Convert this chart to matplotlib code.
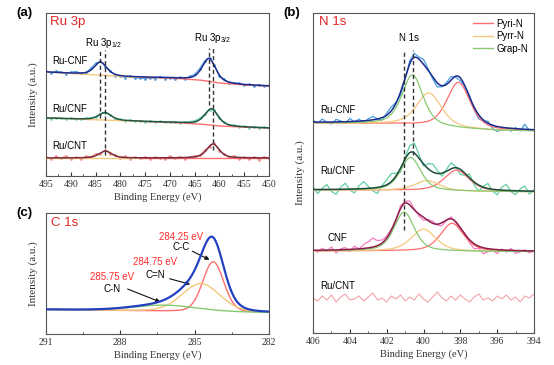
import numpy as np
import matplotlib
matplotlib.use('Agg')
import matplotlib.pyplot as plt
from matplotlib.lines import Line2D
from matplotlib.ticker import MultipleLocator

plt.rcParams['font.family'] = ['Liberation Serif', 'DejaVu Serif']
SANS = ['Liberation Sans', 'DejaVu Sans']

# ---------------- data ----------------
# (a) Ru 3p : peaks [centre eV, height, fwhm], background nodes, raw residuals (1 eV step)
ru3p_bg_e = [495, 486, 479, 470, 464, 460, 455, 450]
ru_cnf_3p_bg = [104, 101.5, 99.2, 98, 96, 93, 91, 90]
ru_cnf2_3p_bg = [58, 56.5, 55.2, 53.6, 52, 50, 48.8, 48]
ru_cnt_3p_bg = [18, 18, 18, 18, 18, 18, 18, 18]
ru_cnf_3p = [[484.0, 13, 3.0], [462.1, 23, 3.2]]
ru_cnf2_3p = [[483.1, 7.5, 3.0], [461.6, 16.5, 3.2]]
ru_cnt_3p = [[483.0, 7, 3.0], [461.3, 14, 3.0]]
ru_cnf_3p_res = [0.5, -0.8, 1.2, 0.3, -1.0, 0.9, 1.5, 0.2, -0.6, 1.8, 2.0, 0.8, -0.5, 1.0, -1.2, -0.3,
                 -1.5, 0.6, -1.8, -0.9, -2.0, -0.4, -1.3, 0.7, -1.1, -0.2, -1.6, 0.4, -0.7, 1.0, 1.5,
                 2.2, 1.8, 0.5, 1.2, -0.6, 0.9, -1.1, -0.3, 0.8, -0.9, 0.4, -1.2, 0.6, -0.5, 0.3]
ru_cnf2_3p_res = [0.3, -0.5, 0.6, 0.1, -0.4, 0.5, 0.2, -0.3, 0.8, 0.4, -0.2, 0.6, -0.5, 0.3, -0.6, 0.2,
                  -0.4, 0.5, -0.3, 0.1, -0.6, 0.4, -0.2, 0.3, -0.5, 0.2, 0.6, -0.3, 0.4, 0.9, 1.2,
                  1.5, 0.8, -0.2, 0.5, -0.6, 0.3, -0.4, 0.6, -0.2, 0.4, -0.5, 0.2, -0.3, 0.5, -0.1]
ru_cnt_3p_res = [0.8, -1.2, 1.5, -0.5, 2.0, -1.0, 0.6, -1.6, 1.1, 0.2, 1.8, -0.7, 0.9, -1.4, 0.5, -0.8,
                 1.3, -1.1, 0.4, -0.6, 1.0, -1.5, 0.7, 0.1, -1.0, 1.6, -0.4, 0.8, -1.2, 0.6, 1.2,
                 0.3, 1.9, -0.5, 1.4, -1.3, 0.7, -0.9, 1.5, -1.7, 0.2, -1.4, 0.9, -2.0, 1.1, -0.8]

# (b) N 1s : components Pyri-N, Pyrr-N, Grap-N, raw residuals (0.25 eV step)
n1s_bg_e = [406, 401.5, 400, 398, 396, 394]
ru_cnf_n_bg = [210, 209, 207.5, 204.5, 202.5, 202]
ru_cnf2_n_bg = [143, 142.8, 142.4, 141.8, 141.4, 141.2]
cnf_n_bg = [82, 82, 81.8, 81.6, 81.4, 81.3]
ru_cnf_n = [[398.1, 46, 1.5], [399.7, 33, 1.6], [400.6, 50, 1.35]]
ru_cnf2_n = [[398.2, 21, 1.6], [399.8, 10, 1.6], [400.7, 33, 1.3]]
cnf_n = [[398.45, 28, 1.5], [400.0, 22, 1.6], [401.05, 39, 1.3]]
ru_cnf_n_res = [2, -1, 3, 0, -2, 2.5, 1,
                -1.5, 3, -0.5, 2, -2, 1.5, 3.5,
                0, -2.5, 2, 4, 1, -3, -2,
                3, 4, 2, 5, 1.5, -2, -4,
                -1, 2, 3.5, -1, -3, 0, 1.5,
                -2.5, -4, -1, 2, -3, -5, -2,
                0, -3, 1, -2, 5, -1, 0]
ru_cnf2_n_res = [3, -4, 1, 5, -2, -5, 2,
                 6, -1, -4, 3, 7, 2, -3,
                 -6, 1, 5, 8, 3, -4, 2,
                 7, 10, 4, -2, 5, 8, 3,
                 -3, 2, 6, 1, -5, -2, 4,
                 -3, -6, 1, 5, -2, -5, 3,
                 6, -1, -4, 2, 5, -3, 1]
cnf_n_res = [1, -2, 2, -1, 3, -3, 1,
             2, -2, 3, 0, 4, 6, 9,
             5, 3, 2, 1, -2, 3, 2,
             4, 1, -2, -3, 1, 2, -1,
             -3, 0, 2, -1, -2, 1, -3,
             -5, -2, -6, -3, -1, -4, 1,
             -2, 2, -3, -1, 1, -2, 0]
ru_cnt_n_raw = [35, 32, 37, 33, 38, 31, 36,
                39, 33, 34, 37, 32, 36, 40,
                33, 35, 31, 37, 34, 38, 32,
                36, 33, 39, 34, 31, 36, 41,
                35, 32, 37, 33, 38, 34, 31,
                36, 39, 33, 35, 32, 37, 34,
                38, 33, 36, 31, 37, 35, 39]

# (c) C 1s : C-C, C=N, C-N
c1s_bg_e = [291, 282]
c1s_bg = [24.5, 21.5]
c1s_peaks = [[284.25, 50, 1.0], [284.75, 28, 1.8], [286.2, 6, 3.0]]

RED = '#ff6e6e'
YEL = '#f5c87c'
GRN = '#88c972'


def pv(x, c, h, w, eta=0.5):
    g = np.exp(-4 * np.log(2) * ((x - c) / w) ** 2)
    l = 1.0 / (1 + 4 * ((x - c) / w) ** 2)
    return h * (eta * l + (1 - eta) * g)


def bg_at(x, e, y):
    return np.interp(x, e[::-1], y[::-1])


def envelope(x, peaks, e, y, eta=0.5):
    tot = bg_at(x, e, y)
    for c, h, w in peaks:
        tot = tot + pv(x, c, h, w, eta)
    return tot


def style_ax(ax):
    for s in ax.spines.values():
        s.set_color('#555555')
        s.set_linewidth(0.8)
    ax.set_yticks([])
    ax.tick_params(axis='x', which='both', direction='in', top=False, labelsize=7,
                   colors='#333333', pad=3)
    ax.tick_params(axis='x', which='major', length=3)
    ax.tick_params(axis='x', which='minor', length=1.5)
    ax.set_xlabel('Binding Energy (eV)', fontsize=7.5, labelpad=2, color='#333333')
    ax.set_ylabel('Intensity (a.u.)', fontsize=8, labelpad=6, color='#333333')


fig = plt.figure(figsize=(5.54, 3.65), dpi=100)
ax_a = fig.add_axes([0.083, 0.5178, 0.4025, 0.4466])
ax_b = fig.add_axes([0.565, 0.0877, 0.3989, 0.8767])
ax_c = fig.add_axes([0.083, 0.0849, 0.4025, 0.3315])

# ---------------- (a) Ru 3p ----------------
xa = np.linspace(495, 450, 900)
xa_raw = np.linspace(495, 450, 46)
traces_a = [
    (ru_cnf_3p, ru_cnf_3p_bg, ru_cnf_3p_res, '#4a98dc', '#1b2a8c'),
    (ru_cnf2_3p, ru_cnf2_3p_bg, ru_cnf2_3p_res, '#74d3b0', '#1f5744'),
    (ru_cnt_3p, ru_cnt_3p_bg, ru_cnt_3p_res, '#f08c8c', '#7a2a3c'),
]
for peaks, bg, res, c_raw, c_fit in traces_a:
    raw = envelope(xa_raw, peaks, ru3p_bg_e, bg) + np.array(res)
    ax_a.plot(xa_raw, raw, color=c_raw, lw=0.7, marker='.', ms=1.8, zorder=2)
    b = bg_at(xa, ru3p_bg_e, bg)
    ax_a.plot(xa[xa >= 476], b[xa >= 476], color=YEL, lw=1.0, zorder=3)
    ax_a.plot(xa[xa <= 476], b[xa <= 476], color=RED, lw=1.0, zorder=3)
    ax_a.plot(xa, envelope(xa, peaks, ru3p_bg_e, bg), color=c_fit, lw=1.1, zorder=4)

for xe, y0, y1 in [(484.0, 58, 126), (483.0, 21, 126), (462.1, 71, 128), (461.3, 26, 128)]:
    ax_a.plot([xe, xe], [y0, y1], color='#333333', lw=1.0, ls=(0, (3, 2)), zorder=5)

ax_a.text(483.3, 133, r'Ru 3p$_{\mathregular{1/2}}$', fontsize=7, ha='center', va='center', family=SANS)
ax_a.text(461.4, 138, r'Ru 3p$_{\mathregular{3/2}}$', fontsize=7, ha='center', va='center', family=SANS)
for lab, yy in [('Ru-CNF', 115), ('Ru/CNF', 67), ('Ru/CNT', 30)]:
    ax_a.text(493.8, yy, lab, fontsize=7, ha='left', va='center', family=SANS)
ax_a.text(0.018, 0.945, 'Ru 3p', transform=ax_a.transAxes, fontsize=9.5, color='#e02424',
          ha='left', va='center', family=SANS)
ax_a.set_xlim(495, 450)
ax_a.set_ylim(0, 163)
ax_a.xaxis.set_major_locator(MultipleLocator(5))
ax_a.xaxis.set_minor_locator(MultipleLocator(2.5))
style_ax(ax_a)

# ---------------- (b) N 1s ----------------
xb = np.linspace(406, 394, 700)
xb_raw = np.linspace(406, 394, 49)
traces_b = [
    (ru_cnf_n, ru_cnf_n_bg, ru_cnf_n_res, '#4a9ee0', '#1b2a8c'),
    (ru_cnf2_n, ru_cnf2_n_bg, ru_cnf2_n_res, '#62cfa2', '#1d4d3c'),
    (cnf_n, cnf_n_bg, cnf_n_res, '#f27ec2', '#8a1c4a'),
]
for peaks, bg, res, c_raw, c_fit in traces_b:
    raw = envelope(xb_raw, peaks, n1s_bg_e, bg) + np.array(res)
    ax_b.plot(xb_raw, raw, color=c_raw, lw=0.9, zorder=2)
    b = bg_at(xb, n1s_bg_e, bg)
    for (c, h, w), col in zip(peaks, [RED, YEL, GRN]):
        ax_b.plot(xb, b + pv(xb, c, h, w), color=col, lw=0.9, zorder=3)
    ax_b.plot(xb, envelope(xb, peaks, n1s_bg_e, bg), color=c_fit, lw=1.1, zorder=4)
ax_b.plot(xb_raw, ru_cnt_n_raw, color='#f4a3aa', lw=0.8, zorder=2)

ax_b.plot([401.05, 401.05], [103, 283], color='#333333', lw=1.0, ls=(0, (3, 2)), zorder=5)
ax_b.plot([400.57, 400.57], [178, 283], color='#333333', lw=1.0, ls=(0, (3, 2)), zorder=5)
ax_b.text(400.8, 295, 'N 1s', fontsize=7, ha='center', va='center', family=SANS)
for lab, xx, yy in [('Ru-CNF', 405.6, 223), ('Ru/CNF', 405.6, 162), ('CNF', 405.2, 95), ('Ru/CNT', 405.6, 47)]:
    ax_b.text(xx, yy, lab, fontsize=7, ha='left', va='center', family=SANS)
ax_b.text(0.027, 0.972, 'N 1s', transform=ax_b.transAxes, fontsize=9.5, color='#e02424',
          ha='left', va='center', family=SANS)
handles = [Line2D([], [], color=RED, lw=1.0), Line2D([], [], color=YEL, lw=1.0),
           Line2D([], [], color=GRN, lw=1.0)]
leg = ax_b.legend(handles, ['Pyri-N', 'Pyrr-N', 'Grap-N'], loc='upper right', frameon=False,
                  prop={'family': SANS, 'size': 7}, handlelength=2.0, handletextpad=0.4,
                  labelspacing=0.25, borderaxespad=0.2, bbox_to_anchor=(1.0, 1.0))
ax_b.set_xlim(406, 394)
ax_b.set_ylim(0, 320)
ax_b.xaxis.set_major_locator(MultipleLocator(2))
ax_b.xaxis.set_minor_locator(MultipleLocator(1))
style_ax(ax_b)

# ---------------- (c) C 1s ----------------
xc = np.linspace(291, 282, 700)
bc = bg_at(xc, c1s_bg_e, c1s_bg)
for (c, h, w), col in zip(c1s_peaks, [RED, YEL, GRN]):
    ax_c.plot(xc, bc + pv(xc, c, h, w, 0.15), color=col, lw=1.0, zorder=3)
ax_c.plot(xc, envelope(xc, c1s_peaks, c1s_bg_e, c1s_bg, 0.15), color='#2340c0', lw=1.6, zorder=4)

ann = [('284.25 eV', 'C-C', 285.55, 97, 87, (285.19, 84), (284.30, 73)),
       ('284.75 eV', 'C=N', 286.6, 72, 59, (286.12, 56), (285.07, 49)),
       ('285.75 eV', 'C-N', 288.34, 57, 45, (287.81, 46), (286.28, 31))]
for ev, bond, xx, y_ev, y_b, p0, p1 in ann:
    ax_c.text(xx, y_ev, ev, fontsize=7, color='#ff2a2a', ha='center', va='center', family=SANS)
    ax_c.text(xx, y_b, bond, fontsize=7, ha='center', va='center', family=SANS)
    ax_c.annotate('', xy=p1, xytext=p0,
                  arrowprops=dict(arrowstyle='-|>', color='#111111', lw=0.8, mutation_scale=6))
ax_c.text(0.022, 0.917, 'C 1s', transform=ax_c.transAxes, fontsize=9.5, color='#e02424',
          ha='left', va='center', family=SANS)
ax_c.set_xlim(291, 282)
ax_c.set_ylim(0, 121)
ax_c.xaxis.set_major_locator(MultipleLocator(3))
ax_c.xaxis.set_minor_locator(MultipleLocator(1.5))
style_ax(ax_c)

# panel letters
for lab, xx, yy in [('(a)', 0.045, 0.964), ('(b)', 0.527, 0.964), ('(c)', 0.045, 0.416)]:
    fig.text(xx, yy, lab, fontsize=9.5, fontweight='bold', ha='center', va='center', family=SANS)

fig.savefig('out.png', dpi=100)
